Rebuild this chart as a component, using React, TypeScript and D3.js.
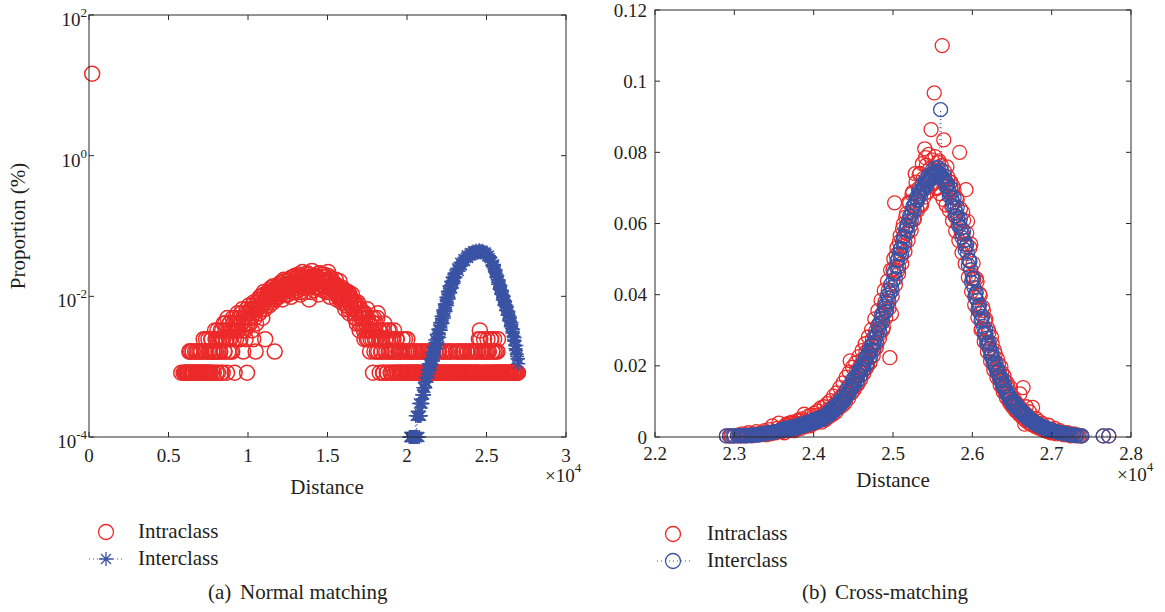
import React from 'react';
import * as d3 from 'd3';

// ---------- (a) Normal matching ----------
// intraclass pair counts in 30-wide distance bins, split into two interleaved lists:
// list A holds bins at 5800, 5860, ...; list B holds bins at 5830, 5890, ...
const intraBinStart = 5800;
const intraBinWidth = 30;
const intraPairUnit = 0.00082; // proportion (%) of a single intraclass pair
const intraCountsA = [
  1, 0, 0, 0, 1, 1, 0, 1, 1, 2,
  1, 1, 2, 1, 0, 1, 2, 1, 1, 2,
  1, 2, 1, 1, 2, 1, 3, 1, 2, 1,
  2, 1, 3, 2, 1, 2, 3, 1, 4, 2,
  3, 2, 1, 4, 3, 2, 5, 3, 1, 4,
  3, 5, 2, 4, 6, 3, 1, 5, 4, 7,
  4, 6, 3, 5, 8, 2, 6, 4, 7, 1,
  6, 9, 5, 7, 4, 8, 10, 6, 2, 9,
  8, 11, 7, 9, 12, 6, 10, 13, 3, 9,
  11, 14, 9, 12, 16, 13, 10, 15, 2, 12,
  13, 17, 12, 15, 19, 14, 11, 16, 20, 13,
  15, 18, 13, 21, 16, 12, 19, 23, 17, 14,
  18, 22, 15, 25, 17, 13, 20, 27, 16, 19,
  14, 21, 26, 18, 11, 23, 17, 28, 20, 15,
  19, 24, 16, 22, 13, 26, 18, 21, 15, 25,
  17, 23, 14, 20, 27, 16, 12, 22, 18, 15,
  19, 14, 21, 11, 17, 13, 20, 15, 10, 16,
  11, 15, 8, 13, 9, 14, 7, 12, 9, 13,
  8, 10, 6, 9, 5, 10, 7, 4, 8, 6,
  5, 7, 3, 6, 4, 8, 3, 5, 2, 4,
  4, 1, 6, 3, 5, 2, 7, 4, 1, 3,
  2, 4, 1, 5, 3, 2, 1, 4, 2, 3,
  1, 3, 2, 4, 1, 2, 3, 1, 2, 1,
  2, 1, 3, 1, 2, 0, 1, 3, 2, 1,
  1, 2, 1, 0, 1, 2, 1, 1, 0, 2,
  1, 0, 2, 1, 1, 0, 1, 2, 1, 1,
  2, 1, 0, 1, 2, 1, 1, 0, 1, 2,
  1, 1, 0, 2, 1, 1, 2, 0, 1, 1,
  0, 1, 2, 1, 1, 0, 1, 1, 2, 1,
  1, 2, 0, 1, 1, 2, 1, 0, 1, 2,
  1, 0, 1, 2, 1, 1, 0, 2, 1, 1,
  2, 1, 3, 4, 1, 2, 0, 1, 2, 1,
  1, 3, 2, 0, 1, 3, 2, 1, 3, 1,
  2, 1, 3, 1, 1, 1, 0, 1, 1, 0,
  1, 0, 1, 1, 0, 1, 1, 0, 1, 1,
  1, 1, 0, 1,
];
const intraCountsB = [
  0, 0, 1, 0, 0, 1, 1, 0, 2, 1,
  2, 1, 1, 0, 2, 1, 1, 2, 1, 1,
  2, 1, 1, 3, 1, 2, 1, 1, 3, 2,
  1, 3, 2, 1, 2, 4, 2, 3, 1, 3,
  2, 4, 3, 1, 5, 2, 4, 3, 6, 2,
  5, 3, 4, 2, 5, 4, 6, 3, 5, 4,
  6, 3, 5, 7, 4, 6, 5, 3, 8, 5,
  7, 5, 8, 6, 9, 3, 7, 8, 5, 10,
  10, 7, 12, 8, 11, 9, 14, 8, 11, 12,
  13, 10, 15, 11, 14, 12, 17, 13, 11, 16,
  15, 12, 18, 14, 16, 13, 17, 21, 15, 18,
  17, 20, 15, 18, 22, 16, 14, 20, 18, 24,
  16, 20, 23, 18, 14, 21, 19, 24, 17, 22,
  19, 16, 22, 25, 17, 20, 14, 22, 18, 24,
  20, 17, 23, 19, 26, 16, 21, 18, 23, 20,
  21, 15, 19, 24, 17, 20, 14, 21, 18, 16,
  15, 18, 13, 17, 12, 16, 14, 11, 15, 12,
  13, 10, 14, 9, 12, 8, 13, 10, 11, 8,
  9, 7, 10, 6, 8, 7, 9, 5, 7, 6,
  6, 4, 7, 5, 3, 6, 4, 5, 3, 6,
  3, 5, 2, 4, 3, 6, 2, 3, 4, 2,
  3, 1, 4, 2, 3, 1, 3, 2, 4, 1,
  2, 1, 3, 2, 1, 3, 1, 2, 2, 1,
  1, 2, 1, 2, 3, 1, 2, 1, 1, 2,
  2, 1, 1, 2, 0, 1, 2, 1, 1, 0,
  1, 2, 1, 0, 2, 1, 1, 1, 2, 0,
  1, 1, 2, 1, 0, 1, 2, 1, 1, 1,
  2, 1, 1, 0, 1, 2, 1, 1, 2, 0,
  1, 2, 1, 1, 2, 1, 0, 1, 1, 2,
  1, 1, 2, 0, 1, 1, 2, 1, 1, 0,
  2, 1, 1, 1, 2, 0, 1, 1, 2, 1,
  1, 2, 1, 3, 2, 1, 2, 3, 1, 2,
  2, 1, 2, 1, 3, 1, 2, 1, 2, 1,
  1, 2, 1, 1, 0, 1, 1, 1, 0, 1,
  1, 1, 0, 1, 1, 1, 0, 1, 1, 0,
  1, 0, 1, 0,
];
const intraZeroDistance = 200;
const intraZeroProportion = 14.6;

// interclass: [distance, proportion %]
const interNormalA: [number, number][] = [
  [20150, 0.0001], [20200, 0.0001], [20250, 0.0001], [20300, 0.0001], [20350, 0.0001],
  [20400, 0.0001], [20450, 0.0001], [20500, 0.0001], [20550, 0.0002], [20600, 0.0001],
  [20650, 0.0002], [20700, 0.0002], [20750, 0.0003], [20800, 0.0002], [20850, 0.0003],
  [20900, 0.0003], [20950, 0.0004], [21000, 0.0004], [21050, 0.0004], [21100, 0.0005],
  [21150, 0.0005], [21200, 0.0006], [21250, 0.0007], [21300, 0.0007], [21350, 0.0008],
  [21400, 0.0009], [21450, 0.001], [21500, 0.0011], [21550, 0.0012], [21600, 0.0013],
  [21650, 0.0015], [21700, 0.0017], [21750, 0.0018], [21800, 0.002], [21850, 0.0022],
  [21900, 0.0025], [21950, 0.0027], [22000, 0.003], [22050, 0.0034], [22100, 0.0038],
  [22150, 0.0042], [22200, 0.0046], [22250, 0.0052], [22300, 0.0057], [22350, 0.0063],
  [22400, 0.0069], [22450, 0.0077], [22500, 0.0085], [22550, 0.0094], [22600, 0.0105],
  [22650, 0.0116], [22700, 0.0128], [22750, 0.014], [22800, 0.0145], [22850, 0.0157],
  [22900, 0.0168], [22950, 0.018], [23000, 0.019], [23100, 0.0215], [23200, 0.024],
  [23300, 0.0264], [23400, 0.0288], [23500, 0.031], [23600, 0.0331], [23700, 0.0352],
  [23800, 0.0372], [23900, 0.0385], [24000, 0.0398], [24100, 0.0408], [24200, 0.0417],
  [24300, 0.0425], [24400, 0.0431], [24500, 0.0435], [24600, 0.0437], [24700, 0.0434],
  [24800, 0.0427], [24900, 0.0414], [25000, 0.0398], [25100, 0.0374], [25200, 0.0347],
  [25300, 0.0315], [25400, 0.0282], [25450, 0.0265], [25500, 0.0245], [25550, 0.0227],
  [25600, 0.0209], [25650, 0.019], [25700, 0.0172], [25750, 0.0158], [25800, 0.0148],
  [25850, 0.0133], [25900, 0.0122], [25950, 0.0113], [26000, 0.0105], [26050, 0.0097],
  [26100, 0.0089], [26150, 0.0082], [26200, 0.0076], [26250, 0.007], [26300, 0.0063],
  [26350, 0.0058], [26400, 0.0054], [26450, 0.0048], [26500, 0.0044], [26550, 0.0039],
  [26600, 0.0035], [26650, 0.0032], [26700, 0.0027], [26750, 0.0023], [26800, 0.002],
  [26850, 0.0017], [26900, 0.0015], [26950, 0.0013], [27000, 0.0011],
];
const interNormalB: [number, number][] = [
  [20175, 0.0001], [20275, 0.0001], [20375, 0.0001], [20475, 0.0001], [20575, 0.0001],
  [20625, 0.0001], [20675, 0.0001], [20725, 0.0002], [20775, 0.0001], [20825, 0.0002],
  [20875, 0.0002], [20925, 0.0003], [20975, 0.0003], [21025, 0.0005], [21075, 0.0004],
  [21125, 0.0006], [21175, 0.0007], [21225, 0.0006], [21275, 0.0009], [21325, 0.0008],
  [21375, 0.0011], [21425, 0.0009], [21475, 0.0013], [21525, 0.0011], [21575, 0.0016],
  [21625, 0.0012], [21675, 0.0019], [21725, 0.0014], [21775, 0.0024], [21825, 0.0018],
  [21875, 0.0029], [21925, 0.0021], [21975, 0.0034], [22025, 0.0026], [22075, 0.0042],
  [22125, 0.0033], [22175, 0.0052], [22225, 0.0041], [22275, 0.0064], [22325, 0.0049],
  [22375, 0.0078], [22425, 0.0061], [22475, 0.0097], [22525, 0.0074], [22575, 0.0118],
  [22625, 0.0092], [22675, 0.014], [22725, 0.0112], [22775, 0.0162], [22825, 0.0131],
  [22875, 0.0185], [22925, 0.0152], [22975, 0.0204], [23050, 0.0186], [23150, 0.0248],
  [23250, 0.0229], [23350, 0.0301], [23450, 0.0276], [23550, 0.0337], [23650, 0.0318],
  [23750, 0.0381], [23850, 0.0352], [23950, 0.0412], [24050, 0.0384], [24150, 0.0433],
  [24250, 0.0404], [24350, 0.0446], [24450, 0.0418], [24550, 0.0452], [24650, 0.0421],
  [24750, 0.0445], [24850, 0.0405], [24950, 0.0421], [25050, 0.0372], [25150, 0.0378],
  [25250, 0.0318], [25350, 0.0309], [25425, 0.0262], [25475, 0.0283], [25525, 0.0221],
  [25575, 0.0236], [25625, 0.0185], [25675, 0.0198], [25725, 0.0149], [25775, 0.0171],
  [25825, 0.0126], [25875, 0.0142], [25925, 0.0107], [25975, 0.0121], [26025, 0.0089],
  [26075, 0.0101], [26125, 0.0074], [26175, 0.0086], [26225, 0.0063], [26275, 0.0072],
  [26325, 0.0054], [26375, 0.0061], [26425, 0.0045], [26475, 0.0051], [26525, 0.0037],
  [26575, 0.0042], [26625, 0.003], [26675, 0.0034], [26725, 0.0024], [26775, 0.0026],
  [26825, 0.0018], [26875, 0.002], [26925, 0.0014], [26975, 0.0013],
];

// ---------- (b) Cross-matching ----------
// proportions (%) per 20-wide distance bin starting at 22900 (null = no pair)
const crossBinStart = 22900;
const crossBinWidth = 20;
const crossIntra: (number | null)[] = [
  0.0003, null, 0.0003, 0.0003, null, 0.0003, null, 0.0003, 0.0006, 0.0003, 0.0009, 0.0003, 0.0006, 0.0003, 0.0012, 0.0006, 0.0003, 0.0009, 0.0006, 0.0015, 0.0009,
  0.0006, 0.0012, 0.0009, 0.0018, 0.0006, 0.0012, 0.0021, 0.0009, 0.0031, 0.0015, 0.0012, 0.0024, 0.0039, 0.0018, 0.0015, 0.0027, 0.0021, 0.0036, 0.0018, 0.0024,
  0.0033, 0.0021, 0.0018, 0.0039, 0.0027, 0.0045, 0.0024, 0.0036, 0.0064, 0.003, 0.0042, 0.0033, 0.0051, 0.0036, 0.0048, 0.0039, 0.0061, 0.0045, 0.0057, 0.0042,
  0.0048, 0.0067, 0.0054, 0.0076, 0.0058, 0.0079, 0.0064, 0.0091, 0.007, 0.0103, 0.0082, 0.0112, 0.0088, 0.0121, 0.0097, 0.0136, 0.0109, 0.0214, 0.0124, 0.0161,
  0.0142, 0.0185, 0.0152, 0.0197, 0.0173, 0.0218, 0.0191, 0.0239, 0.0203, 0.0252, 0.0227, 0.0276, 0.0245, 0.0297, 0.0264, 0.0318, 0.0291, 0.0346, 0.0309, 0.038,
  0.0355, 0.0412, 0.0223, 0.0346, 0.047, 0.0658, 0.0512, 0.0468, 0.0548, 0.0503, 0.0585, 0.0536, 0.0618, 0.0572, 0.066, 0.0594, 0.0683, 0.0612, 0.074, 0.0641,
  0.0698, 0.0741, 0.0652, 0.0726, 0.081, 0.0764, 0.0688, 0.0752, 0.0864, 0.0712, 0.0967, 0.0749, 0.0701, 0.0776, 0.0728, 0.11, 0.0835, 0.0722, 0.0759, 0.0689,
  0.0716, 0.0648, 0.0703, 0.0621, 0.0672, 0.0598, 0.08, 0.0574, 0.0631, 0.0543, 0.0695, 0.0606, 0.0498, 0.0542, 0.0454, 0.0444, 0.0392, 0.0437, 0.0361, 0.0398,
  0.0305, 0.0356, 0.0327, 0.0262, 0.0303, 0.0248, 0.0281, 0.0207, 0.0243, 0.0192, 0.0218, 0.0166, 0.0197, 0.0139, 0.0172, 0.0124, 0.0151, 0.0105, 0.0139, 0.0088,
  0.0101, 0.0076, 0.0092, 0.0068, 0.0121, 0.0059, 0.0139, 0.0036, 0.0085, 0.0047, 0.0071, 0.0036, 0.0083, 0.0041, 0.0052, 0.0029, 0.0044, 0.0024, 0.0038, 0.0021,
  0.0027, 0.0018, 0.0033, 0.0015, 0.0021, 0.0012, 0.0024, 0.0009, 0.0015, 0.0018, 0.0009, 0.0012, 0.0006, 0.0009, 0.0012, 0.0006, 0.0003, 0.0006, 0.0009, 0.0003, 0.0006, 0.0003, null, 0.0003,
];
const crossInter: (number | null)[] = [
  0.0003, null, 0.0003, null, 0.0003, 0.0003, null, 0.0004, 0.0003, 0.0004, 0.0004, 0.0004, 0.0003, 0.0004, 0.0005, 0.0004, 0.0005, 0.0005, 0.0006, 0.0005, 0.0007,
  0.0007, 0.0008, 0.0008, 0.0009, 0.001, 0.0011, 0.0012, 0.0012, 0.0013, 0.0014, 0.0015, 0.0016, 0.0017, 0.0018, 0.0019, 0.002, 0.0021, 0.0022, 0.0023, 0.0024,
  0.0024, 0.0025, 0.0026, 0.0027, 0.0027, 0.0029, 0.003, 0.0032, 0.0034, 0.0035, 0.0036, 0.0038, 0.0039, 0.0041, 0.0042, 0.0044, 0.0045, 0.0047, 0.0049, 0.005,
  0.0053, 0.0056, 0.0059, 0.0062, 0.0066, 0.007, 0.0073, 0.0077, 0.0082, 0.0086, 0.0091, 0.0095, 0.0099, 0.0104, 0.011, 0.0118, 0.0126, 0.0134, 0.0142, 0.015,
  0.0158, 0.0166, 0.0175, 0.0183, 0.0192, 0.02, 0.0209, 0.0218, 0.0227, 0.0236, 0.0245, 0.0255, 0.0265, 0.0278, 0.0292, 0.0306, 0.032, 0.0334, 0.0348, 0.0362,
  0.0376, 0.039, 0.0405, 0.042, 0.044, 0.046, 0.048, 0.0499, 0.0515, 0.053, 0.0548, 0.0565, 0.0582, 0.0595, 0.0608, 0.062, 0.0634, 0.0646, 0.0657, 0.0667,
  0.0676, 0.0685, 0.0693, 0.07, 0.0707, 0.0714, 0.072, 0.0727, 0.0733, 0.0738, 0.0742, 0.0745, 0.0744, 0.0742, 0.092, 0.0731, 0.0724, 0.0716, 0.0706, 0.0695,
  0.0685, 0.0672, 0.0658, 0.0644, 0.063, 0.0615, 0.0602, 0.0587, 0.057, 0.0552, 0.0535, 0.0516, 0.0495, 0.047, 0.0445, 0.042, 0.0402, 0.0384, 0.0366, 0.0348,
  0.033, 0.0311, 0.0293, 0.0278, 0.0263, 0.0248, 0.0234, 0.022, 0.0207, 0.0195, 0.0183, 0.0172, 0.0161, 0.015, 0.014, 0.0131, 0.0122, 0.0114, 0.0106, 0.0099,
  0.0094, 0.0089, 0.0084, 0.0079, 0.0075, 0.0071, 0.0066, 0.0062, 0.0058, 0.0053, 0.005, 0.0046, 0.0043, 0.004, 0.0038, 0.0035, 0.0033, 0.0031, 0.0028, 0.0026,
  0.0025, 0.0023, 0.0021, 0.002, 0.0019, 0.0017, 0.0016, 0.0015, 0.0013, 0.0012, 0.0011, 0.001, 0.001, 0.0009, 0.0008, 0.0007, 0.0006, 0.0006, 0.0005, 0.0005, 0.0004, null, 0.0003, 0.0003,
];
// in-between bins (23610, 23630, ... 26990) of the central part
const crossMidStart = 23610;
const crossIntraMid = [
  0.0027, 0.0012, 0.0033, 0.0018, 0.0039,
  0.0021, 0.0042, 0.0018, 0.0036, 0.0024, 0.0048, 0.0027, 0.0051, 0.0033, 0.0045, 0.0039, 0.0058, 0.0031, 0.0061, 0.0042, 0.0067, 0.0045, 0.0073, 0.0051, 0.0082,
  0.0055, 0.0085, 0.0049, 0.0094, 0.0067, 0.0102, 0.0072, 0.0115, 0.0081, 0.0124, 0.0089, 0.0139, 0.0098, 0.0152, 0.0112, 0.0168, 0.0121, 0.0182, 0.0137, 0.0196,
  0.0133, 0.0208, 0.0147, 0.0226, 0.0161, 0.0243, 0.0178, 0.0262, 0.0195, 0.0281, 0.0209, 0.0302, 0.0228, 0.0332, 0.0251, 0.0355, 0.0277, 0.0384, 0.0301, 0.0412,
  0.0335, 0.0438, 0.0362, 0.0469, 0.0395, 0.0501, 0.0428, 0.0532, 0.0459, 0.0566, 0.0487, 0.0598, 0.0521, 0.0628, 0.0552, 0.0657, 0.0581, 0.0689, 0.0612, 0.0716,
  0.0637, 0.0738, 0.0655, 0.0768, 0.0674, 0.0785, 0.0689, 0.0794, 0.0705, 0.0779, 0.0712, 0.0788, 0.0698, 0.0771, 0.0684, 0.0763, 0.0668, 0.0746, 0.0652, 0.0731,
  0.0637, 0.0716, 0.0608, 0.0694, 0.0579, 0.0668, 0.0552, 0.0641, 0.0518, 0.0609, 0.0487, 0.0573, 0.0449, 0.0532, 0.0409, 0.0488, 0.0371, 0.0445, 0.0336, 0.0402,
  0.0301, 0.0365, 0.0268, 0.0331, 0.0239, 0.0294, 0.0213, 0.0262, 0.0188, 0.0233, 0.0167, 0.0205, 0.0146, 0.0181, 0.0127, 0.0158, 0.011, 0.0137, 0.0096, 0.0119,
  0.0084, 0.0105, 0.0073, 0.0092, 0.0064, 0.0081, 0.0055, 0.0071, 0.0047, 0.0062, 0.004, 0.0053, 0.0035, 0.0046, 0.003, 0.0039, 0.0026, 0.0034, 0.0022, 0.0029,
  0.0018, 0.0025, 0.0015, 0.0021, 0.0012,
];
const crossInterMid = [
  0.0022, 0.0019, 0.0025, 0.0021, 0.0026,
  0.0022, 0.0028, 0.0024, 0.003, 0.0026, 0.0033, 0.0029, 0.0036, 0.0032, 0.0039, 0.0034, 0.0042, 0.0037, 0.0045, 0.004, 0.0048, 0.0043, 0.0052, 0.0046, 0.0055,
  0.0049, 0.0058, 0.0055, 0.0066, 0.0061, 0.0075, 0.0068, 0.0084, 0.0076, 0.0093, 0.0084, 0.0102, 0.0093, 0.0114, 0.0103, 0.0129, 0.0117, 0.0145, 0.0131, 0.0161,
  0.0146, 0.0172, 0.0158, 0.0188, 0.0173, 0.0205, 0.0189, 0.0222, 0.0205, 0.024, 0.0223, 0.0259, 0.0244, 0.0283, 0.0268, 0.0312, 0.0296, 0.034, 0.0323, 0.0368,
  0.0352, 0.0398, 0.0381, 0.0428, 0.0412, 0.0462, 0.0445, 0.0495, 0.0478, 0.0528, 0.0513, 0.0561, 0.0546, 0.0592, 0.0578, 0.0621, 0.0608, 0.0648, 0.0637, 0.0672,
  0.0664, 0.0692, 0.0679, 0.0711, 0.0696, 0.0724, 0.0708, 0.0736, 0.0722, 0.0748, 0.0731, 0.0756, 0.0739, 0.0757, 0.0736, 0.0749, 0.0722, 0.0734, 0.0703, 0.0712,
  0.0676, 0.0699, 0.0651, 0.0672, 0.0622, 0.0645, 0.0593, 0.0614, 0.0561, 0.0578, 0.0525, 0.0541, 0.0483, 0.0494, 0.0435, 0.0447, 0.0395, 0.0406, 0.0357, 0.0371,
  0.0326, 0.0339, 0.0288, 0.0301, 0.0258, 0.0267, 0.0229, 0.0238, 0.0203, 0.0211, 0.0181, 0.0188, 0.0159, 0.0166, 0.014, 0.0145, 0.0121, 0.0127, 0.0106, 0.011,
  0.0092, 0.0098, 0.0083, 0.0087, 0.0073, 0.0077, 0.0065, 0.0068, 0.0057, 0.0059, 0.0049, 0.0051, 0.0043, 0.0044, 0.0037, 0.0038, 0.0032, 0.0033, 0.0028, 0.0029,
  0.0024, 0.0025, 0.0021, 0.0022, 0.0019,
];
const crossTailDistance = [27650, 27720];
const crossTailIntra = [0.0003, 0.0003];
const crossTailInter = [0.0003, 0.0003];

// ---------- ticks ----------
const normalXTicks = [0, 5000, 10000, 15000, 20000, 25000, 30000];
const normalXLabels = ['0', '0.5', '1', '1.5', '2', '2.5', '3'];
const normalYTicks = [1e-4, 1e-2, 1, 100];
const normalYExponents = ['-4', '-2', '0', '2'];
const crossXTicks = [22000, 23000, 24000, 25000, 26000, 27000, 28000];
const crossXLabels = ['2.2', '2.3', '2.4', '2.5', '2.6', '2.7', '2.8'];
const crossYTicks = [0, 0.02, 0.04, 0.06, 0.08, 0.1, 0.12];
const crossYLabels = ['0', '0.02', '0.04', '0.06', '0.08', '0.1', '0.12'];

const FONT = "'Liberation Serif', serif";
const RED = '#ec2a2a';
const BLUE = '#3a53a4';
const AXIS = '#2b2b2b';
const TXT = '#231f20';
const STAR = 'M-7,0H7M0,-7V7M-5,-5L5,5M-5,5L5,-5';

function Frame({ x, y, xTicks, yTicks }: any) {
  const [x0, x1] = x.range();
  const [y0, y1] = y.range();
  return (
    <g stroke={AXIS} strokeWidth={1} fill="none">
      <rect x={x0} y={y1} width={x1 - x0} height={y0 - y1} />
      {xTicks.map((t: number) => (
        <g key={'x' + t}>
          <line x1={x(t)} x2={x(t)} y1={y0} y2={y0 - 5} />
          <line x1={x(t)} x2={x(t)} y1={y1} y2={y1 + 5} />
        </g>
      ))}
      {yTicks.map((t: number) => (
        <g key={'y' + t}>
          <line x1={x0} x2={x0 + 5} y1={y(t)} y2={y(t)} />
          <line x1={x1} x2={x1 - 5} y1={y(t)} y2={y(t)} />
        </g>
      ))}
    </g>
  );
}

export default function App() {
  const xN = d3.scaleLinear().domain([0, 30000]).range([89, 566]);
  const yN = d3.scaleLog().domain([1e-4, 100]).range([437, 15]);
  const xC = d3.scaleLinear().domain([22000, 28000]).range([655, 1131]);
  const yC = d3.scaleLinear().domain([0, 0.12]).range([437, 10]);

  const intraPts: number[][] = [[intraZeroDistance, intraZeroProportion]];
  intraCountsA.forEach((c, i) => {
    if (c > 0) intraPts.push([intraBinStart + 2 * i * intraBinWidth, c * intraPairUnit]);
  });
  intraCountsB.forEach((c, i) => {
    if (c > 0) intraPts.push([intraBinStart + (2 * i + 1) * intraBinWidth, c * intraPairUnit]);
  });

  const crossIntraPts: number[][] = [];
  const crossInterPts: [number, number][] = [];
  crossIntra.forEach((v, i) => { if (v != null) crossIntraPts.push([crossBinStart + i * crossBinWidth, v]); });
  crossIntraMid.forEach((v, i) => crossIntraPts.push([crossMidStart + i * crossBinWidth, v]));
  crossTailDistance.forEach((d, i) => crossIntraPts.push([d, crossTailIntra[i]]));
  crossInter.forEach((v, i) => { if (v != null) crossInterPts.push([crossBinStart + i * crossBinWidth, v]); });
  crossTailDistance.forEach((d, i) => crossInterPts.push([d, crossTailInter[i]]));
  const crossInterMidPts = crossInterMid.map((v, i) => [crossMidStart + i * crossBinWidth, v]);

  const lineN = d3.line<[number, number]>().x((d) => xN(d[0])).y((d) => yN(d[1]));
  const lineC = d3.line<[number, number]>().x((d) => xC(d[0])).y((d) => yC(d[1]));

  return (
    <svg width={1165} height={612} style={{ position: 'absolute', left: 0, top: 0, background: '#fff' }}
      fontFamily={FONT} fill={TXT}>
      {/* ---- panel (a) ---- */}
      <g fill="none" stroke={RED} strokeWidth={1.5}>
        {intraPts.map((d, i) => (
          <circle key={i} cx={xN(d[0])} cy={yN(d[1])} r={7.5} />
        ))}
      </g>
      <path d={lineN(interNormalA) || ''} fill="none" stroke={BLUE} strokeWidth={1} strokeDasharray="1,3" />
      <g fill="none" stroke={BLUE} strokeWidth={1.5}>
        {interNormalA.concat(interNormalB).map((d, i) => (
          <path key={i} d={STAR} transform={`translate(${xN(d[0])},${yN(d[1])})`} />
        ))}
      </g>
      <Frame x={xN} y={yN} xTicks={normalXTicks} yTicks={normalYTicks} />
      <g fontSize={19} textAnchor="middle">
        {normalXTicks.map((t, i) => (
          <text key={t} x={xN(t)} y={462}>{normalXLabels[i]}</text>
        ))}
      </g>
      <g fontSize={19} textAnchor="end">
        {normalYTicks.map((t, i) => (
          <text key={t} x={87} y={yN(t) + 11}>
            10<tspan fontSize={13} dy={-9}>{normalYExponents[i]}</tspan>
          </text>
        ))}
      </g>
      <text x={545} y={482} fontSize={19}>×10<tspan fontSize={13} dy={-10}>4</tspan></text>
      <text x={327} y={494} fontSize={21} textAnchor="middle">Distance</text>
      <text transform="translate(25,226) rotate(-90)" fontSize={21} textAnchor="middle">Proportion (%)</text>

      {/* legend (a) */}
      <circle cx={106} cy={532} r={7.5} fill="none" stroke={RED} strokeWidth={1.3} />
      <text x={138} y={538} fontSize={21}>Intraclass</text>
      <line x1={89} x2={124} y1={559} y2={559} stroke={BLUE} strokeWidth={1} strokeDasharray="1,3" />
      <path d={STAR} transform="translate(106,559)" fill="none" stroke={BLUE} strokeWidth={1.3} />
      <text x={138} y={565} fontSize={21}>Interclass</text>
      <text x={208} y={599} fontSize={21}>(a)</text>
      <text x={240} y={599} fontSize={21}>Normal matching</text>

      {/* ---- panel (b) ---- */}
      <g fill="none" stroke={RED} strokeWidth={1.3}>
        {crossIntraPts.map((d, i) => (
          <circle key={i} cx={xC(d[0])} cy={yC(d[1])} r={7} />
        ))}
      </g>
      <path d={lineC(crossInterPts) || ''} fill="none" stroke={BLUE} strokeWidth={1} strokeDasharray="1,3" />
      <g fill="none" stroke={BLUE} strokeWidth={1.3}>
        {crossInterPts.concat(crossInterMidPts as [number, number][]).map((d, i) => (
          <circle key={i} cx={xC(d[0])} cy={yC(d[1])} r={7} />
        ))}
      </g>
      <Frame x={xC} y={yC} xTicks={crossXTicks} yTicks={crossYTicks} />
      <g fontSize={19} textAnchor="middle">
        {crossXTicks.map((t, i) => (
          <text key={t} x={xC(t)} y={460}>{crossXLabels[i]}</text>
        ))}
      </g>
      <g fontSize={19} textAnchor="end">
        {crossYTicks.map((t, i) => (
          <text key={t} x={647} y={yC(t) + 6.5}>{crossYLabels[i]}</text>
        ))}
      </g>
      <text x={1117} y={481} fontSize={19}>×10<tspan fontSize={13} dy={-10}>4</tspan></text>
      <text x={893} y={487} fontSize={21} textAnchor="middle">Distance</text>

      {/* legend (b) */}
      <circle cx={673} cy={534} r={7.5} fill="none" stroke={RED} strokeWidth={1.3} />
      <text x={707} y={540} fontSize={21}>Intraclass</text>
      <line x1={657} x2={692} y1={561} y2={561} stroke={BLUE} strokeWidth={1} strokeDasharray="1,3" />
      <circle cx={673} cy={561} r={7.5} fill="none" stroke={BLUE} strokeWidth={1.3} />
      <text x={707} y={567} fontSize={21}>Interclass</text>
      <text x={802} y={599} fontSize={21}>(b)</text>
      <text x={835} y={599} fontSize={21}>Cross-matching</text>
    </svg>
  );
}
